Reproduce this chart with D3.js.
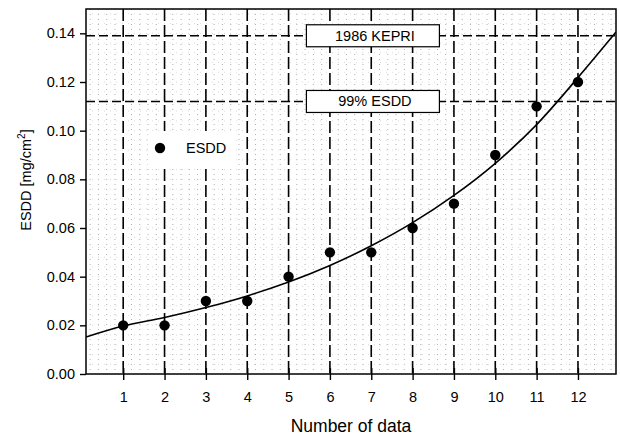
<!DOCTYPE html>
<html><head><meta charset="utf-8">
<script src="https://cdn.jsdelivr.net/npm/d3@7"></script>
<style>
body{margin:0;background:#fff}
svg{display:block}
text{font-family:"Liberation Sans",Arial,Helvetica,sans-serif;fill:#000}
</style>
</head><body><svg id="c" width="620" height="436"></svg>
<script>
// ---- data ----
const dataX = [1,2,3,4,5,6,7,8,9,10,11,12];
const esdd  = [0.02,0.02,0.03,0.03,0.04,0.05,0.05,0.06,0.07,0.09,0.11,0.12];
const fitX  = [0.1,1,2,3,4,5,6,7,8,9,10,11,12,12.92];
const fitY  = [0.0152,0.0197,0.0232,0.0273,0.0321,0.0378,0.0446,0.0527,0.0622,0.0734,0.0866,0.1025,0.1218,0.1405];
const refLabels = ["1986 KEPRI","99% ESDD"];
const refValues = [0.139,0.112];
const yTicks = [0,0.02,0.04,0.06,0.08,0.10,0.12,0.14];
const xTicks = [1,2,3,4,5,6,7,8,9,10,11,12];
const legendLabel = "ESDD";
const xTitle = "Number of data";

// ---- layout ----
const L=86, R=616, T=9, B=374;
const svg = d3.select("#c");
const x = d3.scaleLinear().domain([0.1,12.92]).range([L,R]);
const y = d3.scaleLinear().domain([0,0.15]).range([B,T]);

// minor dotted grid
const g = svg.append("g");
g.selectAll("line.mv").data(d3.range(2,129,2).map(v=>v/10).filter(v=>v>0.1 && v<12.92 && Math.abs(v-Math.round(v))>1e-6))
 .join("line").attr("class","mv")
 .attr("x1",d=>x(d)).attr("x2",d=>x(d)).attr("y1",T).attr("y2",B)
 .attr("stroke","#9a9a9a").attr("stroke-width",0.8).attr("stroke-dasharray","1 4");
g.selectAll("line.mh").data(d3.range(1,38).map(v=>v*0.004))
 .join("line").attr("class","mh")
 .attr("x1",L).attr("x2",R).attr("y1",d=>y(d)).attr("y2",d=>y(d))
 .attr("stroke","#cccccc").attr("stroke-width",0.7).attr("stroke-dasharray","1 5");

// major vertical dashed lines
g.selectAll("line.vd").data(xTicks).join("line").attr("class","vd")
 .attr("x1",d=>x(d)).attr("x2",d=>x(d)).attr("y1",T).attr("y2",B)
 .attr("stroke","#000").attr("stroke-width",1.6).attr("stroke-dasharray","12 4");

// reference horizontal dashed lines
g.selectAll("line.rh").data(refValues).join("line").attr("class","rh")
 .attr("x1",L).attr("x2",R).attr("y1",d=>y(d)).attr("y2",d=>y(d))
 .attr("stroke","#000").attr("stroke-width",1.6).attr("stroke-dasharray","9 4");

// reference boxes
const boxCx = x(7.04), boxW = 133, boxH = 22;
const rb = svg.append("g").selectAll("g").data(refValues).join("g");
rb.append("rect").attr("x",boxCx-boxW/2).attr("y",d=>y(d)-boxH/2).attr("width",boxW).attr("height",boxH)
 .attr("fill","#fff").attr("stroke","#000").attr("stroke-width",1.2);
rb.append("text").attr("x",boxCx+2).attr("y",d=>y(d)+5).attr("text-anchor","middle")
 .attr("font-size",14.5).text((d,i)=>refLabels[i]);

// legend (white background masks the grid)
svg.append("rect").attr("x",148).attr("y",131).attr("width",86).attr("height",35).attr("fill","#fff");
svg.append("circle").attr("cx",160).attr("cy",148).attr("r",5.2).attr("fill","#000");
svg.append("text").attr("x",186).attr("y",153).attr("font-size",14.5).text(legendLabel);

// fitted curve
svg.append("clipPath").attr("id","pc").append("rect").attr("x",L).attr("y",T).attr("width",R-L).attr("height",B-T);
svg.append("path").datum(fitX.map((v,i)=>[v,fitY[i]]))
 .attr("clip-path","url(#pc)")
 .attr("d", d3.line().x(d=>x(d[0])).y(d=>y(d[1])).curve(d3.curveMonotoneX))
 .attr("fill","none").attr("stroke","#000").attr("stroke-width",1.6);

// data points
svg.append("g").selectAll("circle").data(dataX.map((v,i)=>[v,esdd[i]])).join("circle")
 .attr("cx",d=>x(d[0])).attr("cy",d=>y(d[1])).attr("r",5.2).attr("fill","#000");

// frame
svg.append("rect").attr("x",L).attr("y",T).attr("width",R-L).attr("height",B-T)
 .attr("fill","none").attr("stroke","#000").attr("stroke-width",1.5);

// axes
const ya = svg.append("g").attr("transform",`translate(${L},0)`)
 .call(d3.axisLeft(y).tickValues(yTicks).tickFormat(d3.format(".2f")).tickSize(6).tickPadding(5).tickSizeOuter(0));
ya.select(".domain").remove();
ya.selectAll("line").attr("stroke","#000").attr("stroke-width",1.4);
ya.selectAll("text").attr("font-size",14.5).style("font-family","'Liberation Sans',Arial,sans-serif");

const xa = svg.append("g").attr("transform",`translate(0,${B})`)
 .call(d3.axisBottom(x).tickValues(xTicks).tickFormat(d3.format("d")).tickSize(6).tickPadding(12).tickSizeOuter(0));
xa.select(".domain").remove();
xa.selectAll("line").attr("y1",-6).attr("stroke","#000").attr("stroke-width",1.4);
xa.selectAll("text").attr("font-size",14.5).style("font-family","'Liberation Sans',Arial,sans-serif");

// titles
svg.append("text").attr("x",(L+R)/2).attr("y",432).attr("text-anchor","middle").attr("font-size",17.5).text(xTitle);
const yt = svg.append("text").attr("transform","translate(31,180) rotate(-90)").attr("text-anchor","middle").attr("font-size",14.5);
yt.append("tspan").text("ESDD [mg/cm");
yt.append("tspan").attr("dy",-6).attr("font-size",10).text("2");
yt.append("tspan").attr("dy",6).text("]");
</script>
</body></html>
